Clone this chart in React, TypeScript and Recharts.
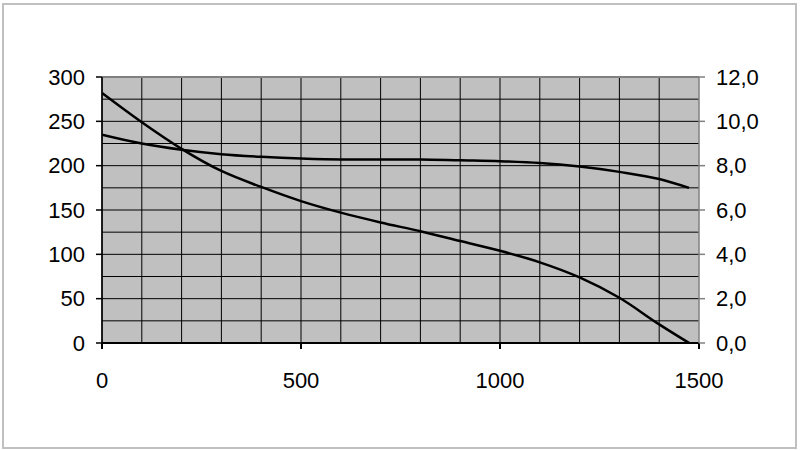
import React from "react";
import {
  LineChart,
  Line,
  XAxis,
  YAxis,
  CartesianGrid,
  ReferenceLine,
} from "recharts";

const flowValues = [0, 100, 200, 300, 400, 500, 600, 700, 800, 900, 1000, 1100, 1200, 1300, 1400, 1475];
const headValues = [235, 225, 218, 213, 210, 208, 207, 207, 207, 206, 205, 203, 199, 193, 185, 175];
const rightValues = [11.28, 9.96, 8.76, 7.76, 7.04, 6.4, 5.88, 5.44, 5.04, 4.6, 4.16, 3.64, 2.96, 2.04, 0.84, 0];

const xTicks = [0, 500, 1000, 1500];
const leftTicks = [0, 50, 100, 150, 200, 250, 300];
const rightTicks = [0, 2, 4, 6, 8, 10, 12];
const xGrid = [0, 100, 200, 300, 400, 500, 600, 700, 800, 900, 1000, 1100, 1200, 1300, 1400];
const yGrid = [0, 25, 50, 75, 100, 125, 150, 175, 200, 225, 250, 275];

const data = flowValues.map((x, i) => ({ x, head: headValues[i], right: rightValues[i] }));

const tickStyle = { fill: "#000", fontSize: 22, fontFamily: "'Liberation Sans', Arial, sans-serif" };

export default function App() {
  return (
    <div style={{ position: "absolute", left: 0, top: 0, width: 800, height: 450, background: "#fff" }}>
      <div
        style={{
          position: "absolute",
          left: 2,
          top: 3,
          width: 795,
          height: 446,
          border: "2px solid #c0c0c0",
          boxSizing: "border-box",
        }}
      />
      <LineChart
        width={800}
        height={450}
        data={data}
        margin={{ top: 77, right: 0, bottom: 67, left: 0 }}
        style={{ position: "absolute", left: 0, top: 0 }}
      >
        <CartesianGrid
          xAxisId="x"
          yAxisId="left"
          fill="#c0c0c0"
          fillOpacity={1}
          stroke="#000"
          strokeWidth={1}
          verticalValues={xGrid}
          horizontalValues={yGrid}
        />
        <XAxis
          xAxisId="x"
          dataKey="x"
          type="number"
          domain={[0, 1500]}
          ticks={xTicks}
          interval={0}
          height={40}
          tickSize={6}
          tickMargin={23}
          stroke="#000"
          strokeWidth={2}
          tick={tickStyle}
          allowDataOverflow
        />
        <YAxis
          yAxisId="left"
          orientation="left"
          domain={[0, 300]}
          ticks={leftTicks}
          interval={0}
          width={102}
          tickSize={6}
          tickMargin={11}
          stroke="#000"
          strokeWidth={1.5}
          tick={tickStyle}
        />
        <YAxis
          yAxisId="right"
          orientation="right"
          domain={[0, 12]}
          ticks={rightTicks}
          interval={0}
          width={101}
          tickSize={6}
          tickMargin={11}
          stroke="#808080"
          strokeWidth={1.5}
          tick={tickStyle}
          tickFormatter={(v: number) => v.toFixed(1).replace(".", ",")}
        />
        <ReferenceLine xAxisId="x" yAxisId="left" y={300} stroke="#808080" strokeWidth={2} />
        <Line
          xAxisId="x"
          yAxisId="left"
          type="monotone"
          dataKey="head"
          stroke="#000"
          strokeWidth={2.5}
          dot={false}
          isAnimationActive={false}
        />
        <Line
          xAxisId="x"
          yAxisId="right"
          type="monotone"
          dataKey="right"
          stroke="#000"
          strokeWidth={2.5}
          dot={false}
          isAnimationActive={false}
        />
      </LineChart>
    </div>
  );
}
